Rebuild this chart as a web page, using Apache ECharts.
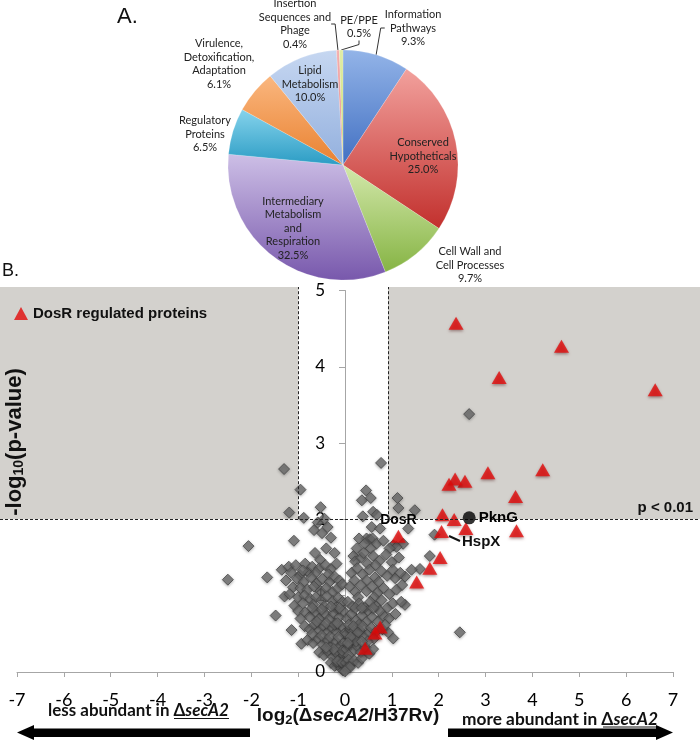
<!DOCTYPE html>
<html><head><meta charset="utf-8">
<script src="https://cdn.jsdelivr.net/npm/echarts/dist/echarts.min.js"></script>
<style>html,body{margin:0;padding:0;background:#fff}#c{width:700px;height:740px}</style>
</head><body><div id="c"></div>
<script>
// ---------- Panel A: pie ----------
const pieNames = ['Information\nPathways','Conserved\nHypotheticals','Cell Wall and\nCell Processes','Intermediary\nMetabolism\nand\nRespiration','Regulatory\nProteins','Virulence,\nDetoxification,\nAdaptation','Lipid\nMetabolism','Insertion\nSequences and\nPhage','PE/PPE'];
const pieValues = [9.3, 25.0, 9.7, 32.5, 6.5, 6.1, 10.0, 0.4, 0.5];

// ---------- Panel B: volcano ----------
const xTicks = [-7,-6,-5,-4,-3,-2,-1,0,1,2,3,4,5,6,7];
const yTicks = [0,1,2,3,4,5];
const pThreshold = 2;
const foldLow = -1;
const foldHigh = 0.92;
const bgXMin = -7.362, bgXMax = 7.576, bgYMax = 5.04;

const grayLeft = [
 [-1.30,2.66],[-0.95,2.39],[-1.19,2.09],[-0.52,2.16],[-0.88,2.02],[-0.66,1.86],[-0.49,1.82],[-0.37,1.90],[-0.58,1.96],[-0.44,2.01],
 [-1.09,1.72],[-2.06,1.65],[-0.40,1.62],[-0.53,1.47],[-1.35,1.34],[-1.66,1.24],[-2.50,1.21],[-1.26,1.20],[-0.96,1.27],[-0.78,1.31],
 [-1.11,1.11],[-1.29,0.99],[-1.08,0.87],[-1.48,0.74],[-1.14,0.55],[-0.93,0.37],[-0.30,1.76],[-0.22,1.56],[-0.64,1.56],
 [-1.20,1.38],[-1.05,1.40],[-0.85,1.42],[-0.70,1.38],[-0.55,1.36],[-0.42,1.40],[-0.30,1.35],[-0.18,1.42],[-1.15,1.30],[-0.90,1.33],[-0.62,1.30],[-0.35,1.28],
 [-1.02,1.22],[-0.88,1.18],[-0.72,1.24],[-0.60,1.16],[-0.48,1.22],[-0.33,1.18],[-0.22,1.25],[-0.12,1.20],[-0.95,1.10],[-0.80,1.08],[-0.66,1.12],[-0.52,1.06],[-0.40,1.10],[-0.27,1.05],[-0.15,1.10],[-0.06,1.15],
 [-1.18,1.02],[-1.00,0.98],[-0.86,1.00],[-0.74,0.96],[-0.62,0.98],[-0.50,0.94],[-0.38,0.99],[-0.26,0.93],[-0.14,0.97],[-0.05,0.92],[-0.90,0.90],[-0.68,0.88],[-0.44,0.86],[-0.20,0.84],
 [-1.00,0.80],[-0.85,0.78],[-0.76,0.72],[-0.62,0.79],[-0.55,0.70],[-0.42,0.76],[-0.33,0.70],[-0.24,0.77],[-0.12,0.72],[-0.04,0.80],[-0.95,0.70],
 [-0.86,0.60],[-0.75,0.56],[-0.65,0.62],[-0.56,0.54],[-0.46,0.60],[-0.38,0.52],[-0.28,0.58],[-0.18,0.53],[-0.08,0.60],[-0.02,0.50],
 [-0.80,0.42],[-0.68,0.38],[-0.58,0.44],[-0.48,0.36],[-0.38,0.42],[-0.30,0.34],[-0.20,0.40],[-0.12,0.33],[-0.04,0.38],
 [-0.55,0.26],[-0.45,0.22],[-0.36,0.27],[-0.26,0.20],[-0.18,0.25],[-0.10,0.18],[-0.03,0.22],
 [-0.30,0.12],[-0.22,0.08],[-0.14,0.10],[-0.08,0.05],[-0.04,0.02],[-0.16,0.14],[-0.06,0.12],
 [-0.70,0.50],[-0.60,0.66],[-0.50,0.48],[-0.40,0.64],[-0.32,0.46],[-0.22,0.62],[-0.14,0.46],[-0.06,0.28],[-0.24,0.30],[-0.40,0.32],
 [-0.12,0.84],[-0.30,0.86],[-0.50,0.82],[-0.70,0.84],[-0.16,0.64]
];
const grayRight = [
 [0.77,2.74],[0.45,2.38],[0.36,2.25],[0.55,2.28],[1.12,2.28],[1.14,2.15],[1.49,2.12],[0.60,2.10],[0.68,2.06],[0.38,2.04],
 [0.57,1.90],[0.75,1.88],[1.35,1.88],[1.91,1.80],[1.24,1.68],[1.03,1.66],[1.10,1.64],[0.18,1.52],[1.81,1.52],[1.60,1.35],
 [1.42,1.34],[1.28,1.25],[1.07,1.23],[2.45,0.52],[1.03,0.44],[2.65,3.38],[1.28,0.88],
 [0.46,1.75],[0.53,1.74],[0.59,1.75],[0.67,1.68],
 [0.30,1.75],[0.42,1.68],[0.55,1.62],[0.82,1.72],[0.95,1.62],[0.25,1.62],
 [0.22,1.45],[0.35,1.50],[0.48,1.42],[0.60,1.52],[0.74,1.46],[0.88,1.54],[1.00,1.44],[1.15,1.50],[0.40,1.56],[0.65,1.40],
 [0.14,1.30],[0.26,1.36],[0.38,1.28],[0.52,1.34],[0.64,1.24],[0.78,1.32],[0.90,1.26],[1.02,1.34],[1.18,1.30],[0.46,1.20],[0.72,1.18],[0.20,1.20],
 [0.10,1.12],[0.22,1.05],[0.34,1.14],[0.46,1.06],[0.58,1.12],[0.70,1.04],[0.82,1.10],[0.95,1.02],[1.10,1.08],[0.28,0.98],[0.62,0.98],[1.22,1.14],
 [0.06,0.92],[0.16,0.86],[0.30,0.90],[0.42,0.84],[0.54,0.92],[0.66,0.86],[0.78,0.94],[0.90,0.84],[1.02,0.90],[1.20,0.92],[0.48,0.80],
 [0.05,0.70],[0.14,0.76],[0.24,0.68],[0.36,0.74],[0.46,0.66],[0.58,0.72],[0.70,0.66],[0.82,0.74],[0.94,0.70],[1.08,0.76],[0.30,0.62],
 [0.04,0.50],[0.12,0.56],[0.22,0.48],[0.32,0.54],[0.42,0.46],[0.52,0.52],[0.62,0.44],[0.80,0.56],[0.92,0.52],[0.16,0.42],
 [0.03,0.30],[0.10,0.36],[0.18,0.28],[0.26,0.34],[0.34,0.26],[0.44,0.32],[0.52,0.24],[0.60,0.30],[0.08,0.22],
 [0.02,0.12],[0.08,0.16],[0.14,0.10],[0.20,0.15],[0.28,0.12],[0.05,0.05],[0.10,0.06],[0.00,0.01],[0.36,0.18],
 [0.08,0.62],[0.18,0.60],[0.28,0.52],[0.38,0.60],[0.48,0.40],[0.56,0.58],[0.68,0.54],[0.74,0.80],[0.24,0.40],[0.36,0.40],
 [0.12,0.46],[0.06,0.38],[0.22,0.84],[0.36,0.84],[0.60,0.84],[0.86,0.62]
];
const dosrPoints = [
 [2.37,4.57],[4.62,4.27],[3.29,3.86],[6.62,3.70],[4.22,2.65],[3.05,2.61],[2.56,2.50],[2.35,2.53],[2.22,2.46],[3.64,2.30],
 [2.08,2.06],[2.33,2.00],[2.58,1.88],[3.66,1.85],[2.06,1.84],[1.14,1.78],[2.03,1.50],[1.81,1.36],[1.53,1.18],
 [0.75,0.59],[0.64,0.51],[0.43,0.31]
];
const dosrIndexLabel = 15;   // DosR itself
const pkngPoint = [[2.65,2.02]];

// ---------- styling (kept separate from data) ----------
const pieTop = ['#93b4e8','#f2a19d','#d3e8ab','#cdbfe6','#86d3ec','#fab77f','#c6d7f1','#f4b0b0','#e1eda6'];
const pieBot = ['#4270c2','#c2302d','#86b444','#7858ac','#2b9cc4','#e98130','#93b0de','#e07b7b','#c4d96b'];
const pieLabelPos = [[413,28],[423,156],[470,265],[293,228],[205,134],[219,64],[310,84],[295,24],[359,27]];
const pieLabelInside = [false,true,false,true,false,false,true,false,false];
const pieLabelLine = [true,false,false,false,false,false,false,true,true];

const gridL = 17, gridR = 27;
const chartW = 700;
const xMin = xTicks[0], xMax = xTicks[xTicks.length-1];
// offset that places the y axis on x = 0 (derived from the axis scale)
const yAxisOffset = -((0 - xMin) / (xMax - xMin)) * (chartW - gridL - gridR);

const font = 'Lato, "Open Sans", sans-serif';
const bold = '"Liberation Sans", Arial, sans-serif';

function richCaption(size){
  return {a:{fontSize:size, fontWeight:'bold', fontFamily:font, fill:'#111'},
          i:{fontSize:size, fontWeight:'bold', fontStyle:'italic', fontFamily:font, fill:'#111'}};
}
// fit a caption to a target width using zrender's own text measurement
function fitSize(text, target){
  const t = new echarts.graphic.Text({style:{text:text, rich:richCaption(20)}});
  return 20 * target / t.getBoundingRect().width;
}
const lessText = '{a|less abundant in Δ}{i|secA2}';
const moreText = '{a|more abundant in Δ}{i|secA2}';
const lessSize = fitSize(lessText, 181);
const moreSize = fitSize(moreText, 196);

const chart = echarts.init(document.getElementById('c'), null, {renderer:'canvas'});

const pieData = pieNames.map((n,i)=>({
  name:n, value:pieValues[i],
  itemStyle:{color:{type:'linear',x:0,y:0,x2:0,y2:1,colorStops:[{offset:0,color:pieTop[i]},{offset:1,color:pieBot[i]}]}},
  label:{position: pieLabelInside[i] ? 'inside' : 'outside'},
  labelLine:{show: pieLabelLine[i]}
}));

const lblStyle = {fontWeight:'bold', color:'#000', fontFamily:bold, textBorderWidth:0, textShadowBlur:0, opacity:1};

const option = {
  animation:false,
  grid:[
    {left:gridL, right:gridR, top:290.5, bottom:68, containLabel:false, outerBoundsMode:'none'},
    {left:0, right:0, top:287, bottom:68, containLabel:false, outerBoundsMode:'none'}
  ],
  xAxis:[
    {type:'value', gridIndex:0, min:xMin, max:xMax, interval:1,
     axisLine:{show:true, onZero:false, lineStyle:{color:'#a6a6a6', width:1}},
     axisTick:{show:true, length:5, lineStyle:{color:'#a6a6a6'}},
     axisLabel:{margin:19, fontSize:18, color:'#000', opacity:1, fontFamily:font, hideOverlap:false},
     splitLine:{show:false}},
    {type:'value', gridIndex:1, min:bgXMin, max:bgXMax, show:false, splitLine:{show:false}}
  ],
  yAxis:[
    {type:'value', gridIndex:0, min:yTicks[0], max:yTicks[yTicks.length-1], interval:1,
     position:'left', offset:yAxisOffset,
     axisLine:{show:true, onZero:false, lineStyle:{color:'#a6a6a6', width:1}},
     axisTick:{show:true, length:6, lineStyle:{color:'#a6a6a6'}},
     axisLabel:{margin:20, fontSize:17, color:'#000', fontFamily:font},
     splitLine:{show:false}},
    {type:'value', gridIndex:1, min:0, max:bgYMax, show:false, splitLine:{show:false}}
  ],
  legend:{
    data:['DosR regulated proteins'], left:9, top:301, icon:'triangle',
    itemWidth:14, itemHeight:13, itemGap:5,
    textStyle:{fontSize:15, fontWeight:'bold', color:'#111', fontFamily:bold}
  },
  series:[
    {
      type:'pie', center:[343,165], radius:115, startAngle:90, clockwise:true,
      data:pieData, silent:true, z:2,
      itemStyle:{borderColor:'rgba(255,255,255,0.35)', borderWidth:0.5},
      label:{show:true, fontSize:11, lineHeight:13.5, color:'#222', fontFamily:font,
        formatter:p=>p.name+'\n'+p.value.toFixed(1)+'%'},
      labelLine:{lineStyle:{color:'#333', width:1}, length:8, length2:4},
      labelLayout:function(p){ const q = pieLabelPos[p.dataIndex]; return {x:q[0], y:q[1], align:'center', verticalAlign:'middle'}; }
    },
    {
      type:'scatter', xAxisIndex:1, yAxisIndex:1, data:[[bgXMin,0]], symbolSize:0, z:1, silent:true,
      itemStyle:{opacity:0},
      markArea:{silent:true, itemStyle:{color:'#d3d1cd'},
        data:[[{coord:[bgXMin, pThreshold]},{coord:[foldLow, bgYMax]}],
              [{coord:[foldHigh, pThreshold]},{coord:[bgXMax, bgYMax]}]]},
      markLine:{silent:true, symbol:'none', label:{show:false},
        lineStyle:{type:[3,2], color:'#222', width:1},
        data:[[{coord:[bgXMin,pThreshold]},{coord:[bgXMax,pThreshold]}],
              [{coord:[foldLow,pThreshold]},{coord:[foldLow,bgYMax]}],
              [{coord:[foldHigh,pThreshold]},{coord:[foldHigh,bgYMax]}]]}
    },
    {
      name:'gray', type:'scatter', xAxisIndex:0, yAxisIndex:0, symbol:'diamond', symbolSize:11, z:3,
      data:grayLeft.concat(grayRight),
      itemStyle:{color:'#6e6e6e', borderColor:'#474747', borderWidth:1, shadowBlur:3, shadowColor:'rgba(0,0,0,0.35)', shadowOffsetY:1}
    },
    {
      name:'DosR regulated proteins', type:'scatter', xAxisIndex:0, yAxisIndex:0, symbol:'triangle', symbolSize:[15,13], z:4,
      data:dosrPoints.map((p,i)=> i===dosrIndexLabel ? {value:p, label:Object.assign({show:true, position:'top', distance:3, formatter:'DosR', fontSize:14}, lblStyle)} : p),
      itemStyle:{color:'#e20a0a', shadowBlur:3, shadowColor:'rgba(60,0,0,0.5)', shadowOffsetY:1.5}
    },
    {
      name:'PknG', type:'scatter', xAxisIndex:0, yAxisIndex:0, symbol:'circle', symbolSize:13, z:5,
      data:pkngPoint,
      itemStyle:{color:'#000'},
      label:Object.assign({show:true, position:'right', distance:3, formatter:'PknG', fontSize:15}, lblStyle)
    }
  ],
  graphic:[
    {type:'text', left:117, top:6, style:{text:'A.', fontSize:22, fontFamily:bold, fill:'#111'}},
    {type:'text', left:2, top:262, style:{text:'B.', fontSize:18, fontFamily:bold, fill:'#111'}},
    {type:'text', x:15, y:442, rotation:Math.PI/2, z:10,
     style:{text:'{a|-log}{s|10}{a|(p-value)}', align:'center', verticalAlign:'middle',
       rich:{a:{fontSize:22, fontWeight:'bold', fontFamily:bold, fill:'#111'},
             s:{fontSize:14, fontWeight:'bold', fontFamily:bold, fill:'#111', padding:[9,0,0,0]}}}},
    {type:'text', right:7, top:500, z:10, style:{text:'p < 0.01', fontSize:15, fontWeight:'bold', fontFamily:bold, fill:'#111'}},
    {type:'text', x:462, y:542, z:10, style:{text:'HspX', fontSize:15, fontWeight:'bold', fontFamily:bold, fill:'#111', verticalAlign:'middle'}},
    {type:'line', z:10, shape:{x1:449, y1:536, x2:460, y2:541}, style:{stroke:'#111', lineWidth:2}},
    {type:'text', x:348, y:716, z:10,
     style:{text:'{a|log}{s|2}{a|(Δ}{i|secA2}{a|/H37Rv)}', align:'center', verticalAlign:'middle',
       rich:{a:{fontSize:19, fontWeight:'bold', fontFamily:bold, fill:'#111'},
             s:{fontSize:13, fontWeight:'bold', fontFamily:bold, fill:'#111', padding:[8,0,0,0]},
             i:{fontSize:19, fontWeight:'bold', fontStyle:'italic', fontFamily:bold, fill:'#111'}}}},
    {type:'text', x:138.5, y:711, z:10,
     style:{text:lessText, align:'center', verticalAlign:'middle', rich:richCaption(lessSize)}},
    {type:'line', z:10, shape:{x1:174, y1:718.5, x2:229, y2:718.5}, style:{stroke:'#111', lineWidth:1}},
    {type:'text', x:560, y:719, z:10,
     style:{text:moreText, align:'center', verticalAlign:'middle', rich:richCaption(moreSize)}},
    {type:'line', z:10, shape:{x1:603, y1:727, x2:658, y2:727}, style:{stroke:'#111', lineWidth:1}},
    {type:'polygon', z:10, shape:{points:[[17,732.5],[34,725],[34,728.5],[250,728.5],[250,737],[34,737],[34,740]]}, style:{fill:'#000'}},
    {type:'polygon', z:10, shape:{points:[[673,732.5],[656,725],[656,728.5],[448,728.5],[448,737],[656,737],[656,740]]}, style:{fill:'#000'}}
  ]
};
chart.setOption(option);
</script>
</body></html>
